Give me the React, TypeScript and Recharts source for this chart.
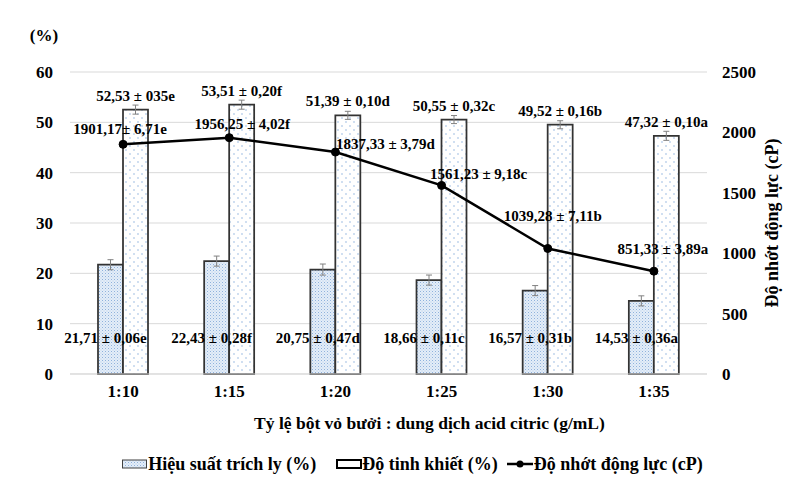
import React from 'react';
import { ComposedChart, Bar, Line, XAxis, YAxis, CartesianGrid, Legend, ErrorBar, LabelList } from 'recharts';

const ratios = ['1:10', '1:15', '1:20', '1:25', '1:30', '1:35'];

const yieldValues = [21.71, 22.43, 20.75, 18.66, 16.57, 14.53];
const yieldErrors = [1.0, 1.0, 1.1, 1.0, 1.0, 1.0];
const yieldLabels = ['21,71 ± 0,06e', '22,43 ± 0,28f', '20,75 ± 0,47d', '18,66 ± 0,11c', '16,57 ± 0,31b', '14,53 ± 0,36a'];

const purityValues = [52.53, 53.51, 51.39, 50.55, 49.52, 47.32];
const purityErrors = [0.9, 0.9, 0.8, 0.8, 0.8, 0.9];
const purityLabels = ['52,53 ± 035e', '53,51 ± 0,20f', '51,39 ± 0,10d', '50,55 ± 0,32c', '49,52 ± 0,16b', '47,32 ± 0,10a'];

const viscosityValues = [1901.17, 1956.25, 1837.33, 1561.23, 1039.28, 851.33];
const viscosityLabels = ['1901,17± 6,71e', '1956,25 ± 4,02f', '1837,33 ± 3,79d', '1561,23 ± 9,18c', '1039,28 ± 7,11b', '851,33 ± 3,89a'];

const percentTicks = [0, 10, 20, 30, 40, 50, 60];
const viscosityTicks = [0, 500, 1000, 1500, 2000, 2500];

const seriesNames = ['Hiệu suất trích ly (%)', 'Độ tinh khiết (%)', 'Độ nhớt động lực (cP)'];

// label nudges for the line labels (placed by hand in the original)
const lineLabelNudge = [[-3, -15], [13, -14], [50, -8], [37, -11], [5, -32], [9, -22]];

const data = ratios.map((r, i) => ({
    ratio: r,
    yield: yieldValues[i],
    yieldErr: yieldErrors[i],
    yieldLabel: yieldLabels[i],
    purity: purityValues[i],
    purityErr: purityErrors[i],
    purityLabel: purityLabels[i],
    viscosity: viscosityValues[i],
    viscosityLabel: viscosityLabels[i],
}));

const FONT = '"Times New Roman", "Liberation Serif", serif';
const textStyle = { fontFamily: FONT, fontWeight: 700, fill: '#000' };
const tickStyle = { fontFamily: FONT, fontWeight: 700, fontSize: 17, fill: '#000' };

const PurityLabel = (props: any) => {
    const { x, y, width, value } = props;
    return (
        <text x={x + width / 2} y={y - 9} textAnchor="middle" fontSize={15} style={textStyle}>
            {value}
        </text>
    );
};

const YieldLabel = (props: any) => {
    const { x, y, width, height, value } = props;
    return (
        <text x={x + width / 2 - 5} y={y + height - 31} textAnchor="middle" fontSize={15} style={textStyle}>
            {value}
        </text>
    );
};

const ViscosityLabel = (props: any) => {
    const { x, y, index, value } = props;
    const [dx, dy] = lineLabelNudge[index] || [0, -15];
    return (
        <text x={x + dx} y={y + dy + 5} textAnchor="middle" fontSize={15} style={textStyle}>
            {value}
        </text>
    );
};

const LegendContent = () => (
    <div
        style={{
            display: 'flex',
            justifyContent: 'center',
            alignItems: 'center',
            height: 24,
            paddingLeft: 50,
            fontFamily: FONT,
            fontWeight: 700,
            fontSize: 18,
            color: '#000',
        }}
    >
        <span style={{ display: 'flex', alignItems: 'center', marginRight: 20 }}>
            <svg width={26} height={10}>
                <rect x={0.5} y={1} width={24} height={8} fill="url(#yieldPattern)" stroke="#404040" strokeWidth={1} />
            </svg>
            {seriesNames[0]}
        </span>
        <span style={{ display: 'flex', alignItems: 'center', marginRight: 8 }}>
            <svg width={26} height={10}>
                <rect x={1} y={1} width={24} height={8} fill="#fff" stroke="#000" strokeWidth={2} />
            </svg>
            {seriesNames[1]}
        </span>
        <span style={{ display: 'flex', alignItems: 'center' }}>
            <svg width={28} height={10}>
                <line x1={1} y1={5} x2={27} y2={5} stroke="#000" strokeWidth={2.5} />
                <circle cx={14} cy={5} r={3.5} fill="#000" />
            </svg>
            {seriesNames[2]}
        </span>
    </div>
);

const App: React.FC = () => {
    return (
        <div style={{ position: 'relative', width: 803, height: 502, margin: -8, background: '#fff' }}>
            <div
                style={{
                    position: 'absolute',
                    left: 7,
                    top: 4,
                    width: 820,
                    height: 520,
                    borderLeft: '1px solid #d0d0d0',
                    borderTop: '1px solid #d0d0d0',
                }}
            />
            <ComposedChart
                width={803}
                height={502}
                data={data}
                margin={{ top: 72, right: 36, left: 8, bottom: 26 }}
                barGap={0}
                style={{ position: 'absolute', left: 0, top: 0 }}
            >
                <defs>
                    <pattern id="yieldPattern" width={3} height={3} patternUnits="userSpaceOnUse">
                        <rect width={3} height={3} fill="#e4edf8" />
                        <rect x={0} y={0} width={1} height={1} fill="#8fb2dc" />
                        <rect x={1.5} y={1.5} width={1} height={1} fill="#b4cdea" />
                    </pattern>
                    <pattern id="purityPattern" width={8} height={8} patternUnits="userSpaceOnUse">
                        <rect width={8} height={8} fill="#fff" />
                        <circle cx={2} cy={2} r={0.7} fill="#7ea7da" />
                        <circle cx={6} cy={6} r={0.7} fill="#7ea7da" />
                    </pattern>
                </defs>
                <CartesianGrid yAxisId="left" vertical={false} stroke="#d9d9d9" />
                <XAxis
                    dataKey="ratio"
                    height={78}
                    tickLine={false}
                    tickSize={0}
                    tickMargin={11}
                    axisLine={{ stroke: '#d9d9d9' }}
                    tick={tickStyle}
                    label={{
                        content: (p: any) => {
                            const vb = p.viewBox;
                            return (
                                <text x={vb.x + vb.width / 2 + 41} y={vb.y + 55} textAnchor="middle" fontSize={17.5} style={textStyle}>
                                    Tỷ lệ bột vỏ bưởi : dung dịch acid citric (g/mL)
                                </text>
                            );
                        },
                    }}
                />
                <YAxis
                    yAxisId="left"
                    width={62}
                    domain={[0, 60]}
                    ticks={percentTicks}
                    axisLine={false}
                    tickLine={false}
                    tickSize={0}
                    tickMargin={17}
                    tick={tickStyle}
                    label={{
                        content: (p: any) => {
                            const vb = p.viewBox;
                            return (
                                <text x={vb.x + 36} y={vb.y - 31} textAnchor="middle" fontSize={17} style={textStyle}>
                                    (%)
                                </text>
                            );
                        },
                    }}
                />
                <YAxis
                    yAxisId="right"
                    orientation="right"
                    width={60}
                    domain={[0, 2500]}
                    ticks={viscosityTicks}
                    axisLine={false}
                    tickLine={false}
                    tickSize={0}
                    tickMargin={15}
                    tick={tickStyle}
                    label={{
                        content: (p: any) => {
                            const vb = p.viewBox;
                            const cx = vb.x + 65;
                            const cy = vb.y + vb.height / 2;
                            return (
                                <text
                                    x={cx}
                                    y={cy}
                                    transform={`rotate(-90 ${cx} ${cy})`}
                                    textAnchor="middle"
                                    dominantBaseline="central"
                                    fontSize={18}
                                    style={textStyle}
                                >
                                    {seriesNames[2]}
                                </text>
                            );
                        },
                    }}
                />
                <Legend verticalAlign="bottom" content={<LegendContent />} />
                <Bar
                    yAxisId="left"
                    dataKey="yield"
                    name={seriesNames[0]}
                    barSize={25}
                    fill="url(#yieldPattern)"
                    stroke="#333"
                    strokeWidth={1.75}
                    isAnimationActive={false}
                >
                    <ErrorBar dataKey="yieldErr" width={3} stroke="#808080" strokeWidth={1} direction="y" />
                    <LabelList dataKey="yieldLabel" content={<YieldLabel />} />
                </Bar>
                <Bar
                    yAxisId="left"
                    dataKey="purity"
                    name={seriesNames[1]}
                    barSize={25}
                    fill="url(#purityPattern)"
                    stroke="#333"
                    strokeWidth={1.75}
                    isAnimationActive={false}
                >
                    <ErrorBar dataKey="purityErr" width={3} stroke="#808080" strokeWidth={1} direction="y" />
                    <LabelList dataKey="purityLabel" content={<PurityLabel />} />
                </Bar>
                <Line
                    yAxisId="right"
                    dataKey="viscosity"
                    name={seriesNames[2]}
                    stroke="#000"
                    strokeWidth={2.5}
                    dot={{ r: 4, fill: '#000', stroke: '#000', strokeWidth: 1 }}
                    activeDot={false}
                    isAnimationActive={false}
                >
                    <LabelList dataKey="viscosityLabel" content={<ViscosityLabel />} />
                </Line>
            </ComposedChart>
        </div>
    );
};

export default App;
